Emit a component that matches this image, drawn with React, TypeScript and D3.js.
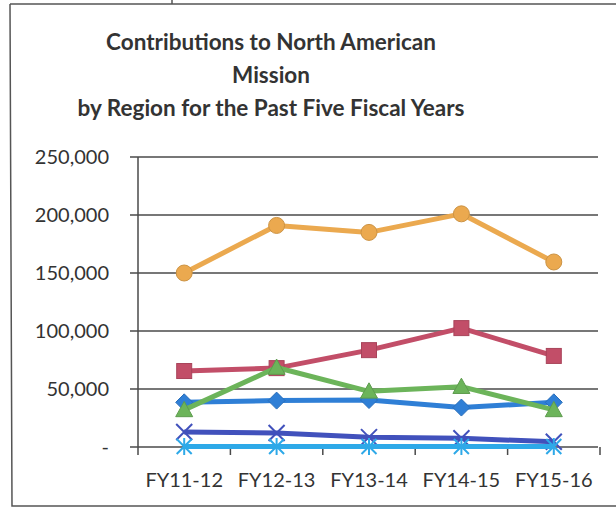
import React from "react";
import * as d3 from "d3";

const categories = ["FY11-12", "FY12-13", "FY13-14", "FY14-15", "FY15-16"];
const seriesNames = ["Region 1", "Region 2", "Region 3", "Region 4", "Region 5", "Region 6"];
const region1 = [38500, 40000, 40500, 34000, 38500];
const region2 = [65500, 68000, 83500, 102500, 78500];
const region3 = [32000, 68500, 48000, 52000, 32000];
const region4 = [13000, 12000, 8500, 7500, 4500];
const region5 = [500, 500, 500, 500, 500];
const region6 = [150000, 191000, 185000, 201000, 159500];
const yTicks = [0, 50000, 100000, 150000, 200000, 250000];
const yTickLabels = ["-", "50,000", "100,000", "150,000", "200,000", "250,000"];
const titleLines = ["Contributions to North American", "Mission", "by Region for the Past Five Fiscal Years"];

const colors = ["#2F7FD6", "#C24E68", "#6CB45A", "#4151BC", "#2EA9E8", "#EBA94F"];
const markers = ["diamond", "square", "triangle", "x", "star", "circle"];
const allSeries = [region1, region2, region3, region4, region5, region6];

const W = 616, H = 508;
const left = 138, right = 600, top = 157, bottom = 447;
const FONT = "Lato, 'Open Sans', sans-serif";

function Marker({ type, cx, cy, color }: { type: string; cx: number; cy: number; color: string }) {
  const stroke = d3.color(color)!.darker(0.4).toString();
  if (type === "diamond") {
    const r = 8.5;
    return <path d={`M${cx},${cy - r}L${cx + r},${cy}L${cx},${cy + r}L${cx - r},${cy}Z`} fill={color} stroke={stroke} strokeWidth={1} />;
  }
  if (type === "square") {
    const s = 15;
    return <rect x={cx - s / 2} y={cy - s / 2} width={s} height={s} fill={color} stroke={stroke} strokeWidth={1} />;
  }
  if (type === "triangle") {
    const s = 8.5;
    return <path d={`M${cx},${cy - s}L${cx + s},${cy + s * 0.8}L${cx - s},${cy + s * 0.8}Z`} fill={color} stroke={stroke} strokeWidth={1} />;
  }
  if (type === "x") {
    const s = 8;
    return <path d={`M${cx - s},${cy - s}L${cx + s},${cy + s}M${cx + s},${cy - s}L${cx - s},${cy + s}`} stroke={color} strokeWidth={2} fill="none" />;
  }
  if (type === "star") {
    const s = 7.5;
    return <path d={`M${cx - s},${cy - s}L${cx + s},${cy + s}M${cx + s},${cy - s}L${cx - s},${cy + s}M${cx},${cy - s - 1}L${cx},${cy + s + 1}`} stroke={color} strokeWidth={2} fill="none" />;
  }
  return <circle cx={cx} cy={cy} r={8} fill={color} stroke={stroke} strokeWidth={1} />;
}

export default function App() {
  const x = d3.scaleBand<string>().domain(categories).range([left, right]);
  const y = d3.scaleLinear().domain([0, 250000]).range([bottom, top]);
  const line = d3
    .line<number>()
    .x((_, i) => (x(categories[i]) as number) + x.bandwidth() / 2)
    .y((d) => y(d));
  const boundaries = categories.map((c) => (x(c) as number) + x.bandwidth());

  return (
    <svg width={W} height={H} style={{ position: "absolute", left: 0, top: 0, background: "#fff" }} fontFamily={FONT}>
      <rect x={0} y={0} width={W} height={H} fill="#fff" />
      {/* frame */}
      <path d={`M10,4L616,4M10,4L12,506L616,506`} stroke="#555" strokeWidth={1.5} fill="none" />
      <line x1={172} y1={0} x2={172} y2={4} stroke="#555" strokeWidth={1.5} />
      {/* title */}
      {titleLines.map((t, i) => (
        <text key={i} x={271} y={50 + i * 33} textAnchor="middle" fontSize={22.5} fontWeight="bold" fill="#333">
          {t}
        </text>
      ))}
      {/* gridlines */}
      {yTicks.map((v, i) => (
        <g key={v}>
          <line x1={130} x2={598} y1={y(v)} y2={y(v)} stroke="#4a4a4a" strokeWidth={1.5} />
          <text x={109} y={y(v) + 7} textAnchor="end" fontSize={20} fill="#333">
            {yTickLabels[i]}
          </text>
        </g>
      ))}
      {/* axes */}
      <line x1={left} x2={left} y1={top} y2={bottom + 8} stroke="#4a4a4a" strokeWidth={1.5} />
      {boundaries.map((b) => (
        <line key={b} x1={b} x2={b} y1={bottom} y2={bottom + 8} stroke="#4a4a4a" strokeWidth={1.5} />
      ))}
      {categories.map((c) => (
        <text key={c} x={(x(c) as number) + x.bandwidth() / 2} y={487} textAnchor="middle" fontSize={20} fill="#333">
          {c}
        </text>
      ))}
      {/* series */}
      {allSeries.map((s, si) => (
        <g key={seriesNames[si]}>
          <path d={line(s) || ""} fill="none" stroke={colors[si]} strokeWidth={5} strokeLinejoin="round" />
          {s.map((v, i) => (
            <Marker key={i} type={markers[si]} cx={(x(categories[i]) as number) + x.bandwidth() / 2} cy={y(v)} color={colors[si]} />
          ))}
        </g>
      ))}
    </svg>
  );
}
